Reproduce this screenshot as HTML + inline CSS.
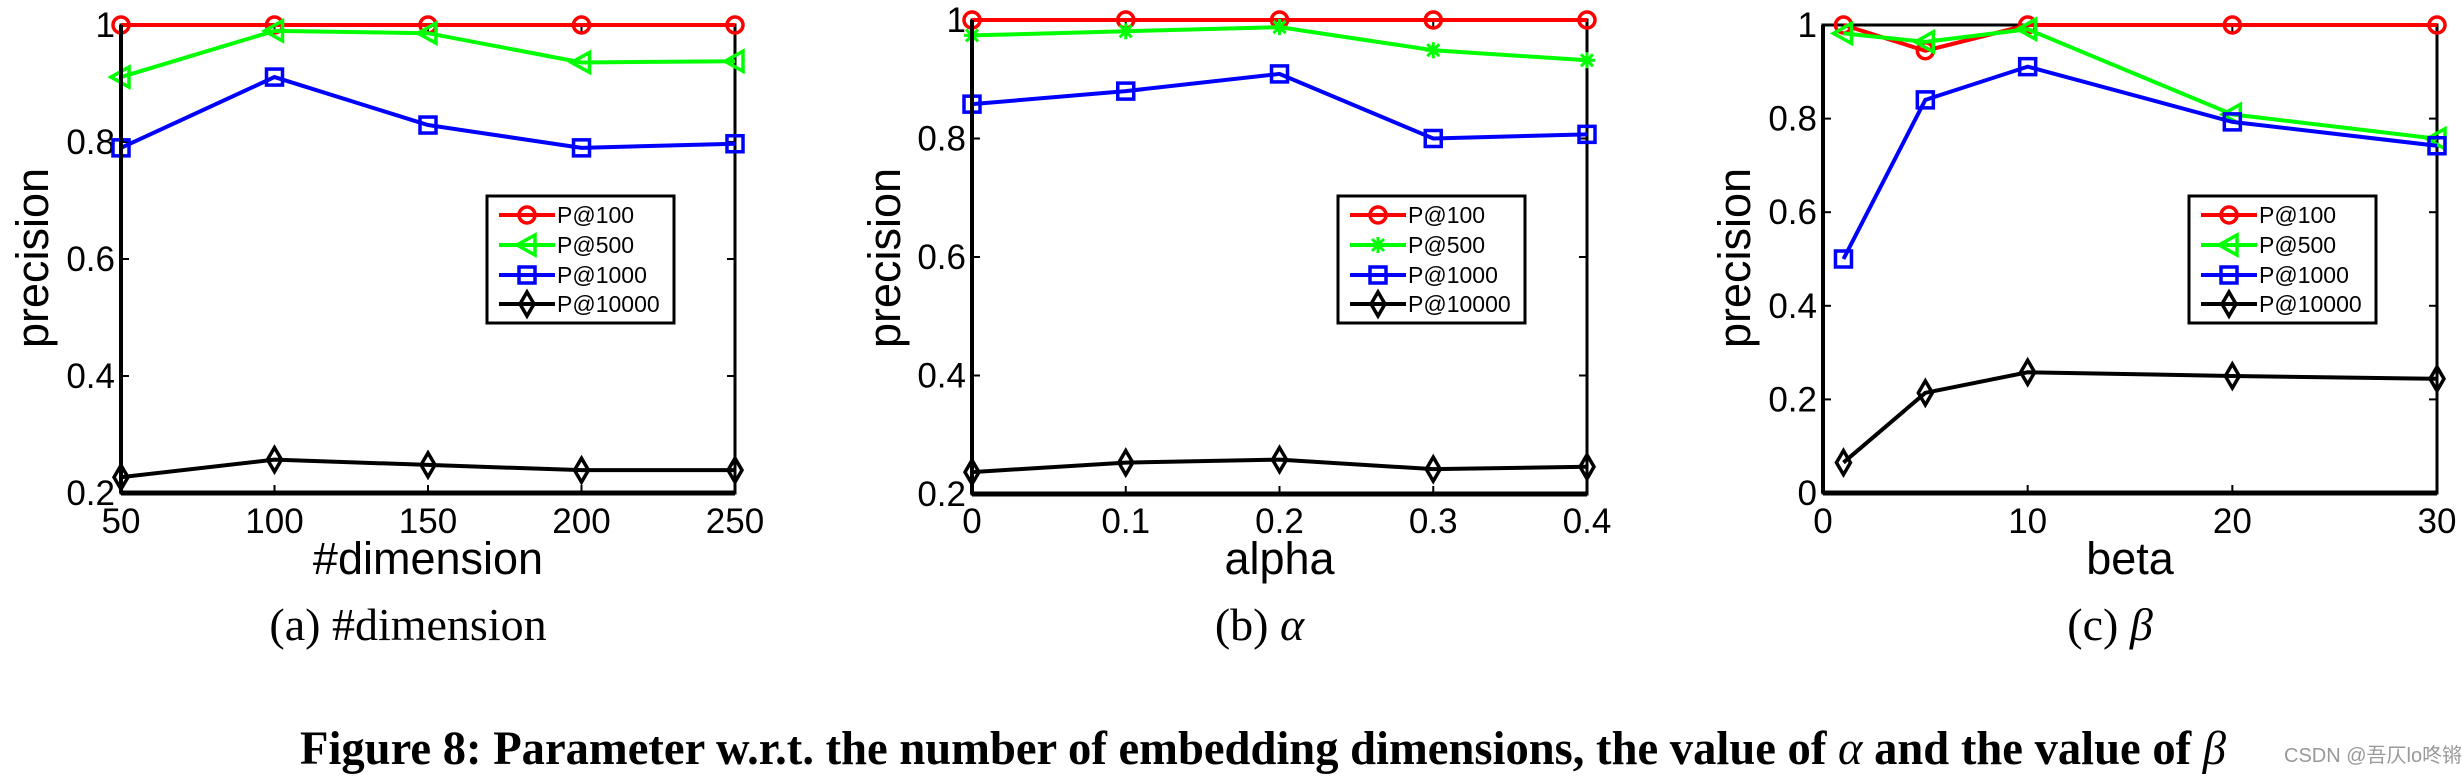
<!DOCTYPE html>
<html><head><meta charset="utf-8">
<style>
html,body{margin:0;padding:0;background:#fff;}
svg{display:block;}
text{font-family:"Liberation Sans",Arial,sans-serif;}
.serif{font-family:"Liberation Serif","Times New Roman",serif;}
</style></head>
<body>
<svg id="fig" width="2462" height="781" viewBox="0 0 2462 781" xmlns="http://www.w3.org/2000/svg">
<text class="serif" x="300" y="764" font-size="48" font-weight="bold" textLength="1926" lengthAdjust="spacingAndGlyphs">Figure 8: Parameter w.r.t. the number of embedding dimensions, the value of <tspan font-style="italic" font-weight="normal">α</tspan> and the value of <tspan font-style="italic" font-weight="normal">β</tspan></text>
<text x="2284" y="762" font-size="20" fill="#999" font-family="'Liberation Sans','Noto Sans CJK SC',sans-serif">CSDN @吾仄lo咚锵</text>
</svg>
<script>
// ---- chart (a) data ----
const aX = [50, 100, 150, 200, 250];
const aP100 = [1, 1, 1, 1, 1];
const aP500 = [0.911, 0.99, 0.986, 0.936, 0.938];
const aP1000 = [0.79, 0.911, 0.829, 0.79, 0.797];
const aP10000 = [0.227, 0.257, 0.248, 0.239, 0.239];
const aXTicks = [50, 100, 150, 200, 250];
const aXTickLabels = ["50", "100", "150", "200", "250"];
const aYTicks = [0.2, 0.4, 0.6, 0.8, 1];
const aYTickLabels = ["0.2", "0.4", "0.6", "0.8", "1"];
// ---- chart (b) data ----
const bX = [0, 0.1, 0.2, 0.3, 0.4];
const bP100 = [1, 1, 1, 1, 1];
const bP500 = [0.974, 0.981, 0.988, 0.949, 0.932];
const bP1000 = [0.858, 0.88, 0.909, 0.8, 0.807];
const bP10000 = [0.237, 0.253, 0.258, 0.242, 0.246];
const bXTicks = [0, 0.1, 0.2, 0.3, 0.4];
const bXTickLabels = ["0", "0.1", "0.2", "0.3", "0.4"];
const bYTicks = [0.2, 0.4, 0.6, 0.8, 1];
const bYTickLabels = ["0.2", "0.4", "0.6", "0.8", "1"];
// ---- chart (c) data ----
const cX = [1, 5, 10, 20, 30];
const cP100 = [1, 0.945, 1, 1, 1];
const cP500 = [0.982, 0.964, 0.991, 0.809, 0.757];
const cP1000 = [0.5, 0.84, 0.911, 0.793, 0.742];
const cP10000 = [0.065, 0.214, 0.258, 0.25, 0.244];
const cXTicks = [0, 10, 20, 30];
const cXTickLabels = ["0", "10", "20", "30"];
const cYTicks = [0, 0.2, 0.4, 0.6, 0.8, 1];
const cYTickLabels = ["0", "0.2", "0.4", "0.6", "0.8", "1"];
const seriesNames = ["P@100", "P@500", "P@1000", "P@10000"];

const NS = "http://www.w3.org/2000/svg";
const svg = document.getElementById("fig");
function mk(tag, attrs, parent) {
  const e = document.createElementNS(NS, tag);
  for (const k in attrs) e.setAttribute(k, attrs[k]);
  (parent || svg).appendChild(e);
  return e;
}
function marker(g, type, x, y, color) {
  let m;
  if (type === "circle") m = mk("circle", {cx: x, cy: y, r: 8, fill: "none", stroke: color, "stroke-width": 3.5}, g);
  else if (type === "tri") m = mk("polygon", {points: `${x-10},${y} ${x+8},${y-10} ${x+8},${y+10}`, fill: "none", stroke: color, "stroke-width": 3.5}, g);
  else if (type === "square") m = mk("rect", {x: x-8, y: y-8, width: 16, height: 16, fill: "none", stroke: color, "stroke-width": 3.5}, g);
  else if (type === "star") {
    m = mk("path", {d: `M${x-8},${y}H${x+8}M${x},${y-8}V${y+8}M${x-6},${y-6}L${x+6},${y+6}M${x-6},${y+6}L${x+6},${y-6}`, stroke: color, "stroke-width": 3}, g);
  } else m = mk("polygon", {points: `${x},${y-12} ${x+7},${y} ${x},${y+12} ${x-7},${y}`, fill: "none", stroke: color, "stroke-width": 3.5}, g);
  
  
  return m;
}
function chart(cfg) {
  const g = mk("g", {});
  
  
  const sx = v => cfg.L + (v - cfg.xmin) / (cfg.xmax - cfg.xmin) * (cfg.R - cfg.L);
  const sy = v => cfg.B - (v - cfg.ymin) / (cfg.ymax - cfg.ymin) * (cfg.B - cfg.T);
  const fr = mk("rect", {x: cfg.L, y: cfg.T, width: cfg.R - cfg.L, height: cfg.B - cfg.T, fill: "none", stroke: "#000", "stroke-width": 3}, g);
  
  
  const xa = mk("line", {x1: cfg.L, y1: cfg.B, x2: cfg.R, y2: cfg.B, stroke: "#000", "stroke-width": 5}, g);
  
  
  const ya = mk("line", {x1: cfg.L, y1: cfg.T, x2: cfg.L, y2: cfg.B, stroke: "#000", "stroke-width": 4}, g);
  
  
  cfg.xt.forEach((v, i) => {
    mk("line", {x1: sx(v), y1: cfg.B, x2: sx(v), y2: cfg.B - 8, stroke: "#000", "stroke-width": 2}, g);
    mk("line", {x1: sx(v), y1: cfg.T, x2: sx(v), y2: cfg.T + 8, stroke: "#000", "stroke-width": 2}, g);
    const t = mk("text", {x: sx(v), y: 533, "font-size": 35, "text-anchor": "middle"}, g);
    t.textContent = cfg.xl[i];
    
    
  });
  cfg.yt.forEach((v, i) => {
    mk("line", {x1: cfg.L, y1: sy(v), x2: cfg.L + 8, y2: sy(v), stroke: "#000", "stroke-width": 2}, g);
    mk("line", {x1: cfg.R, y1: sy(v), x2: cfg.R - 8, y2: sy(v), stroke: "#000", "stroke-width": 2}, g);
    const t = mk("text", {x: cfg.L - 6, y: sy(v) + 12, "font-size": 35, "text-anchor": "end"}, g);
    t.textContent = cfg.yl[i];
    
    
  });
  const colors = ["#ff0000", "#00ff00", "#0000ff", "#000000"];
  const types = ["circle", cfg.greenType, "square", "diamond"];
  cfg.series.forEach((ys, si) => {
    const s = mk("g", {}, g);
    
    
    const pts = cfg.x.map((xv, i) => sx(xv) + "," + sy(ys[i])).join(" ");
    const pl = mk("polyline", {points: pts, fill: "none", stroke: colors[si], "stroke-width": 4}, s);
    
    
    cfg.x.forEach((xv, i) => marker(s, types[si], sx(xv), sy(ys[i]), colors[si]));
  });
  mk("line", {x1: cfg.L, y1: cfg.T, x2: cfg.L, y2: cfg.B, stroke: "#000", "stroke-width": 4}, g);
  const lg = mk("g", {}, g);
  
  
  mk("rect", {x: cfg.lx, y: 196, width: 187, height: 127, fill: "#fff", stroke: "#000", "stroke-width": 3}, lg);
  const rows = [215, 245, 275, 304];
  seriesNames.forEach((n, i) => {
    const e = mk("g", {}, lg);
    
    
    mk("line", {x1: cfg.lx + 12, y1: rows[i], x2: cfg.lx + 68, y2: rows[i], stroke: colors[i], "stroke-width": 4}, e);
    marker(e, types[i], cfg.lx + 40, rows[i], colors[i]);
    const t = mk("text", {x: cfg.lx + 70, y: rows[i] + 8, "font-size": 23}, e);
    t.textContent = n;
  });
  const xt = mk("text", {x: (cfg.L + cfg.R) / 2, y: 574, "font-size": 45, "text-anchor": "middle"}, g);
  xt.textContent = cfg.xtitle;
  
  
  const yt = mk("text", {x: 0, y: 0, "font-size": 45, "text-anchor": "middle", transform: `translate(${cfg.ytx},258) rotate(-90)`}, g);
  yt.textContent = "precision";
  
  
  const cap = mk("text", {x: (cfg.L + cfg.R) / 2 - 20, y: 640, "font-size": 46, "text-anchor": "middle", class: "serif"}, g);
  cap.innerHTML = cfg.caption;
  
  
}
chart({name: "chart-dimension", L: 121, R: 735, T: 25, B: 493, xmin: 50, xmax: 250, ymin: 0.2, ymax: 1,
  x: aX, series: [aP100, aP500, aP1000, aP10000], greenType: "tri",
  xt: aXTicks, xl: aXTickLabels, yt: aYTicks, yl: aYTickLabels, lx: 487, xtitle: "#dimension", ytx: 48,
  caption: "(a) #dimension"});
chart({name: "chart-alpha", L: 972, R: 1587, T: 20, B: 494, xmin: 0, xmax: 0.4, ymin: 0.2, ymax: 1,
  x: bX, series: [bP100, bP500, bP1000, bP10000], greenType: "star",
  xt: bXTicks, xl: bXTickLabels, yt: bYTicks, yl: bYTickLabels, lx: 1338, xtitle: "alpha", ytx: 900,
  caption: "(b) <tspan font-style='italic'>α</tspan>"});
chart({name: "chart-beta", L: 1823, R: 2437, T: 25, B: 493, xmin: 0, xmax: 30, ymin: 0, ymax: 1,
  x: cX, series: [cP100, cP500, cP1000, cP10000], greenType: "tri",
  xt: cXTicks, xl: cXTickLabels, yt: cYTicks, yl: cYTickLabels, lx: 2189, xtitle: "beta", ytx: 1750,
  caption: "(c) <tspan font-style='italic'>β</tspan>"});
</script>
</body></html>
